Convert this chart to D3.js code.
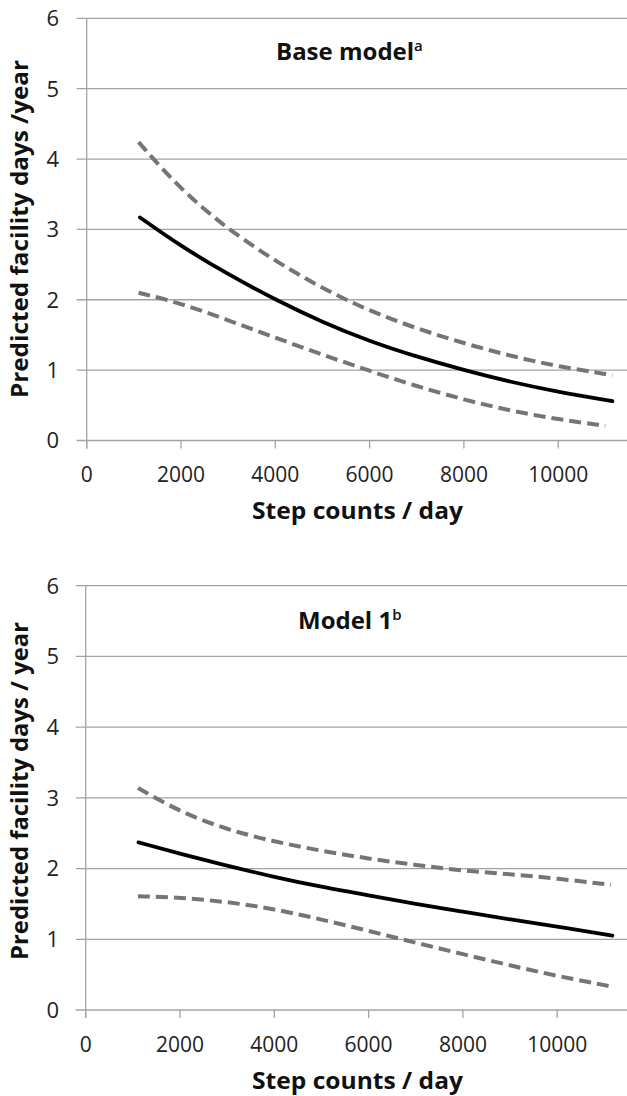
<!DOCTYPE html>
<html>
<head>
<meta charset="utf-8">
<script src="https://cdn.jsdelivr.net/npm/d3@7"></script>
<style>
  html, body { margin: 0; padding: 0; background: #fff; }
  svg { display: block; }
</style>
</head>
<body>
<svg id="chart" width="627" height="1096"></svg>
<script>
// ---------- data ----------
const xTickValues = [0, 2000, 4000, 6000, 8000, 10000];
const yTickValues = [0, 1, 2, 3, 4, 5, 6];

// Base model
const baseFitSteps   = [1130, 2000, 3000, 4000, 5000, 6000, 7000, 8000, 9000, 10000, 11150];
const baseFit        = [3.17, 2.76, 2.36, 2.00, 1.68, 1.41, 1.19, 1.00, 0.83, 0.69, 0.56];
const baseUpperSteps = [1100, 2000, 3000, 4000, 5000, 6000, 7000, 8000, 9000, 10000, 11150];
const baseUpper      = [4.24, 3.56, 3.00, 2.55, 2.16, 1.84, 1.59, 1.38, 1.20, 1.05, 0.93];
const baseLowerSteps = [1100, 2000, 3000, 4000, 5000, 6000, 7000, 8000, 9000, 10000, 11000];
const baseLower      = [2.10, 1.95, 1.71, 1.46, 1.22, 0.99, 0.77, 0.58, 0.42, 0.30, 0.21];

// Model 1
const m1FitSteps   = [1120, 2000, 3000, 4000, 5000, 6000, 7000, 8000, 9000, 10000, 11170];
const m1Fit        = [2.37, 2.21, 2.04, 1.88, 1.74, 1.62, 1.50, 1.39, 1.28, 1.18, 1.05];
const m1UpperSteps = [1110, 2000, 3000, 4000, 5000, 6000, 7000, 8000, 9000, 10000, 11140];
const m1Upper      = [3.14, 2.80, 2.55, 2.38, 2.25, 2.14, 2.05, 1.97, 1.92, 1.86, 1.77];
const m1LowerSteps = [1110, 2000, 3000, 4000, 5000, 6000, 7000, 8000, 9000, 10000, 11170];
const m1Lower      = [1.61, 1.59, 1.53, 1.43, 1.28, 1.12, 0.95, 0.79, 0.63, 0.48, 0.33];

const xTitle = "Step counts / day";

const panels = [
  { title: "Base model", sup: "a", yTitle: "Predicted facility days /year",
    fit: [baseFitSteps, baseFit], upper: [baseUpperSteps, baseUpper], lower: [baseLowerSteps, baseLower],
    x0: 86.7, yTop: 18.3, yBot: 440.5, titleX: 276, titleY: 60, xLabY: 481.5, xTitleY: 519, yTitleC: 229 },
  { title: "Model 1", sup: "b", yTitle: "Predicted facility days / year",
    fit: [m1FitSteps, m1Fit], upper: [m1UpperSteps, m1Upper], lower: [m1LowerSteps, m1Lower],
    x0: 85.7, yTop: 585.7, yBot: 1010, titleX: 298, titleY: 628.5, xLabY: 1051.5, xTitleY: 1089, yTitleC: 791 }
];

const svg = d3.select("#chart");
const W = 627;
const gridColor = "#a3a3a3";
const font = "'Open Sans', 'Noto Sans', sans-serif";

panels.forEach(p => {
  const x = d3.scaleLinear().domain([0, 12000]).range([p.x0, p.x0 + 6 * 94.3]);
  const y = d3.scaleLinear().domain([0, 6]).range([p.yBot, p.yTop]);
  const g = svg.append("g");

  // horizontal gridlines (with left tick extension)
  g.selectAll("line.grid").data(yTickValues).join("line")
    .attr("x1", p.x0 - 10).attr("x2", W)
    .attr("y1", d => y(d)).attr("y2", d => y(d))
    .attr("stroke", gridColor).attr("stroke-width", 1.3);

  // y axis line
  g.append("line")
    .attr("x1", p.x0).attr("x2", p.x0)
    .attr("y1", y(6)).attr("y2", y(0) + 8)
    .attr("stroke", gridColor).attr("stroke-width", 1.3);

  // x ticks
  g.selectAll("line.xt").data(xTickValues).join("line")
    .attr("x1", d => x(d)).attr("x2", d => x(d))
    .attr("y1", y(0)).attr("y2", y(0) + 8)
    .attr("stroke", gridColor).attr("stroke-width", 1.3);

  // y tick labels
  g.selectAll("text.yl").data(yTickValues).join("text")
    .attr("x", 59).attr("y", d => y(d)).attr("dy", "0.36em")
    .attr("text-anchor", "end")
    .attr("font-family", font).attr("font-size", 22).attr("fill", "#222")
    .text(d => d);

  // x tick labels
  g.selectAll("text.xl").data(xTickValues).join("text")
    .attr("x", d => x(d)).attr("y", p.xLabY)
    .attr("text-anchor", "middle")
    .attr("font-family", font).attr("font-size", 21).attr("fill", "#222")
    .text(d => d);

  // x title
  g.append("text")
    .attr("x", 252).attr("y", p.xTitleY)
    .attr("textLength", 211).attr("lengthAdjust", "spacingAndGlyphs")
    .attr("font-family", font).attr("font-size", 23).attr("font-weight", "bold").attr("fill", "#111")
    .text(xTitle);

  // y title
  g.append("text")
    .attr("transform", `translate(28,${p.yTitleC}) rotate(-90)`)
    .attr("text-anchor", "middle")
    .attr("textLength", 338).attr("lengthAdjust", "spacingAndGlyphs")
    .attr("font-family", font).attr("font-size", 23).attr("font-weight", "bold").attr("fill", "#111")
    .text(p.yTitle);

  // panel title
  const t = g.append("text")
    .attr("x", p.titleX).attr("y", p.titleY)
    .attr("font-family", font).attr("font-size", 24).attr("font-weight", "bold").attr("fill", "#111");
  t.append("tspan").text(p.title);
  t.append("tspan").attr("dy", -9).attr("font-size", 15).attr("font-weight", "600").text(p.sup);

  const line = d3.line().x(d => x(d[0])).y(d => y(d[1])).curve(d3.curveBasis);
  const pts = arr => arr[0].map((s, i) => [s, arr[1][i]]);

  [p.upper, p.lower].forEach(s => {
    g.append("path").datum(pts(s))
      .attr("d", line).attr("fill", "none")
      .attr("stroke", "#757575").attr("stroke-width", 4)
      .attr("stroke-dasharray", "12,6");
  });
  g.append("path").datum(pts(p.fit))
    .attr("d", line).attr("fill", "none")
    .attr("stroke", "#000").attr("stroke-width", 3.8)
    .attr("stroke-linecap", "round");
});
</script>
</body>
</html>
